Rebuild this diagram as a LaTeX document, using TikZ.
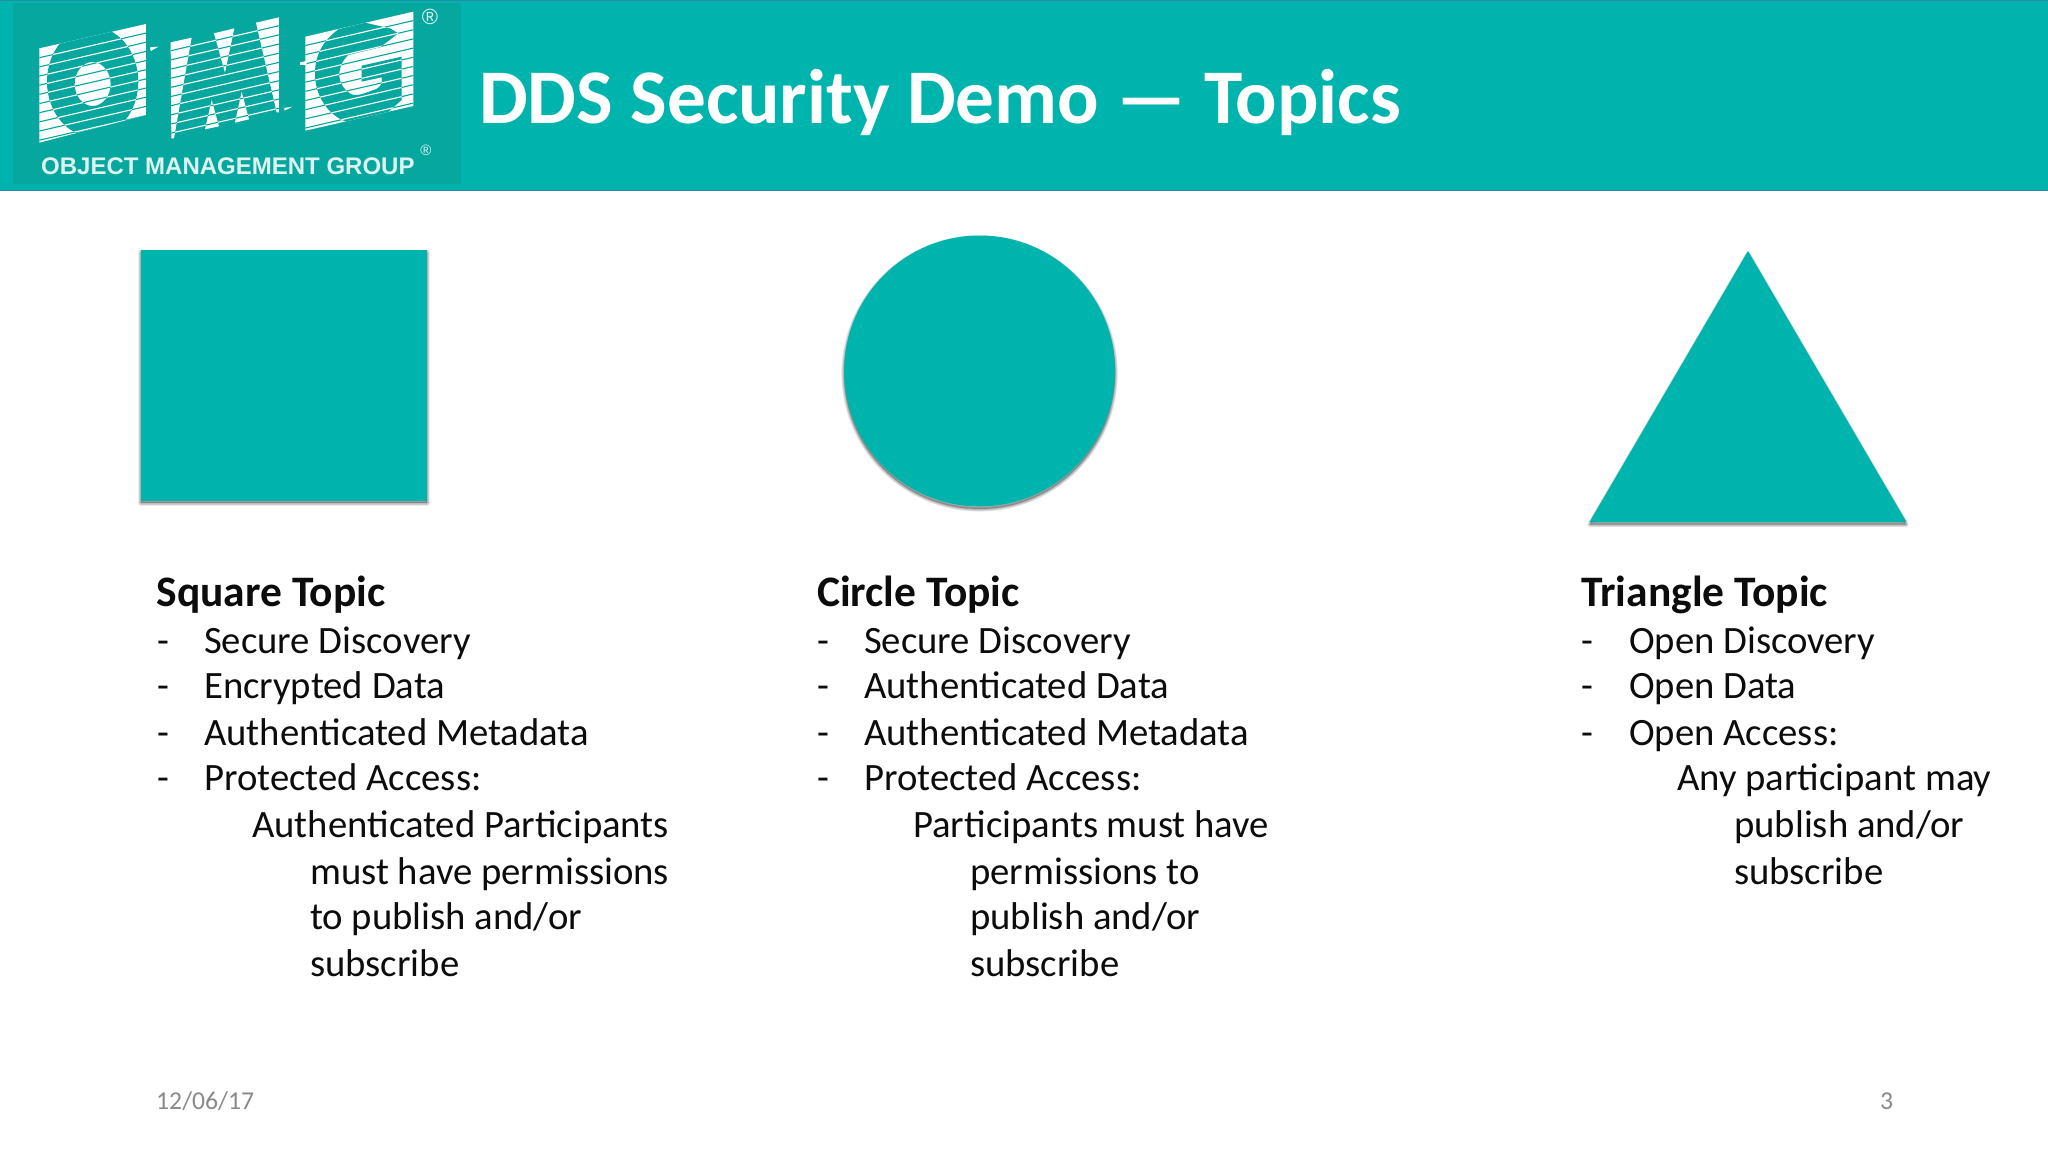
\documentclass[tikz,border=0pt]{standalone}
\usepackage{fontspec}
\setmainfont{Carlito}
\newfontfamily\logofont{Liberation Sans}
\definecolor{hdr}{HTML}{00B4AE}
\definecolor{lbg}{HTML}{05A79F}
\definecolor{ltx}{HTML}{DDF3EF}
\definecolor{ink}{HTML}{0C0C0C}
\definecolor{foot}{HTML}{8A8A8A}
\tikzset{
  titletext/.style={anchor=base west,inner sep=0pt,text=white,font=\bfseries\fontsize{77.3}{84}\selectfont},
  headtext/.style={anchor=base west,inner sep=0pt,text=ink,font=\bfseries\fontsize{43.5}{48}\selectfont},
  bodytext/.style={anchor=base west,inner sep=0pt,text=ink,font=\fontsize{38.7}{42}\selectfont},
  foottext/.style={anchor=base west,inner sep=0pt,text=foot,font=\fontsize{25.7}{30}\selectfont},
  logotext/.style={anchor=base west,inner sep=0pt,text=ltx,font=\logofont\bfseries\fontsize{24}{28}\selectfont},
  logomark/.style={anchor=center,inner sep=0pt,text=ltx,font=\logofont\fontsize{#1}{#1}\selectfont},
}
% stripes in zoomed coordinates: from x #1 at height #2 to x #3, colour #4
\newcommand{\logostripes}[4]{%
  \foreach \k in {0,...,14}{%
    \pgfmathsetmacro{\ya}{#2+\k*27.5}%
    \pgfmathsetmacro{\yb}{\ya-0.231*(#3-#1)}%
    \draw[#4,line width=1.1pt] (#1,\ya) -- (#3,\yb);
  }}
% soft shadow of a closed path
\newcommand{\softshadow}[1]{%
  \foreach \s in {1,2,3,4,5}{%
    \begin{scope}[yshift=-2.4pt]
      \fill[black,opacity=.05] #1;
      \draw[black,opacity=.07,line width=\s*1.1pt,line join=round] #1;
    \end{scope}
  }}
\begin{document}
\begin{tikzpicture}[x=1pt,y=-1pt]
\useasboundingbox (0,0) rectangle (2048,1152);
\fill[white] (0,0) rectangle (2048,1152);
% header
\fill[hdr] (0,0) rectangle (2048,191);
\draw[color=hdr!70!blue!60!gray,line width=1pt] (0,190.8) -- (2048,190.8);
\draw[color=hdr!80!blue!70!gray,line width=1pt] (0,.5) -- (2048,.5);
\fill[lbg] (13,3) rectangle (461,184);
% logo O
\begin{scope}[x=.3333pt,y=-.3333pt]
  \begin{scope}
    \clip (118,145) -- (438,72) -- (438,345) -- (118,428) -- cycle;
    \fill[white] (100,0) rectangle (450,450);
    \logostripes{110}{175}{450}{lbg}
    \fill[lbg,even odd rule] (278,245) ellipse [x radius=137,y radius=165] (278,252) ellipse [x radius=54,y radius=66];
    \begin{scope}[even odd rule]
      \clip (278,245) ellipse [x radius=137,y radius=165] (278,252) ellipse [x radius=54,y radius=66];
      \logostripes{110}{175}{450}{white}
    \end{scope}
  \end{scope}
  \fill[white] (450,142) -- (476,140) -- (452,153) -- cycle;
  \fill[white] (853,324) -- (878,320) -- (853,332) -- cycle;
\end{scope}
% logo M
\begin{scope}[x=.3333pt,y=-.3333pt,shift={(150pt,-10pt)}]
  \begin{scope}
    \clip (62,97) -- (387,22) -- (387,305) -- (65,385) -- cycle;
    \logostripes{50}{125}{400}{white}
  \end{scope}
  \foreach \poly in {{(62,97) -- (125,83) -- (72,385) -- (64,385) -- cycle},
                     {(192,70) -- (253,55) -- (225,188) -- cycle},
                     {(318,38) -- (387,22) -- (387,307) -- (380,307) -- cycle},
                     {(165,358) -- (207,349) -- (185,270) -- cycle},
                     {(255,338) -- (297,328) -- (275,245) -- cycle}}{
    \begin{scope}
      \clip \poly;
      \fill[white] (0,0) rectangle (420,420);
      \logostripes{50}{125}{400}{lbg}
    \end{scope}
  }
\end{scope}
% logo G
\begin{scope}[x=.3333pt,y=-.3333pt,shift={(290pt,0pt)}]
  \begin{scope}
    \clip (46,110) -- (370,35) -- (370,318) -- (46,392) -- cycle;
    \fill[white] (30,0) rectangle (390,410);
    \logostripes{40}{138}{380}{lbg}
    \def\gpath{(145,88) .. controls (95,125) and (75,170) .. (75,220) .. controls (75,290) and (115,345) .. (168,365) -- (290,340) -- (335,300) -- (335,170) -- (215,197) -- (215,245) -- (275,232) .. controls (278,255) and (270,265) .. (245,272) .. controls (225,280) and (205,287) .. (190,285) .. controls (165,275) and (148,250) .. (148,225) .. controls (148,200) and (158,180) .. (175,165) -- (270,142) -- (325,100) -- (300,85) -- (225,68) -- cycle}
    \fill[lbg] \gpath;
    \clip \gpath;
    \logostripes{40}{138}{380}{white}
  \end{scope}
  \fill[white] (30,187) -- (50,183) -- (50,195) -- (30,195) -- cycle;
\end{scope}
\node[logotext] (logoname) at (41,174) {OBJECT MANAGEMENT GROUP};
\node[logomark=22] (logoreg) at (430,17) {®};
\node[logomark=15] (logoregb) at (426,150) {®};
\node[titletext] (title) at (479,123) {DDS Security Demo — Topics};
% shapes
\softshadow{(140.7,250) rectangle (427,500.5)}
\fill[hdr] (140.7,250) rectangle (427,500.5);
\softshadow{(979.6,371) circle (135.5)}
\fill[hdr] (979.6,371) circle (135.5);
\softshadow{(1748,252) -- (1906,522) -- (1590,522) -- cycle}
\fill[hdr] (1748,251) -- (1906.5,522) -- (1589.5,522) -- cycle;
% column 1
\node[headtext] (h1) at (156.5,606.5) {Square Topic};
\node[bodytext] (d1a) at (157,653.5) {-};
\node[bodytext] (t1a) at (204,653.5) {Secure Discovery};
\node[bodytext] (d1b) at (157,698.5) {-};
\node[bodytext] (t1b) at (204,698.5) {Encrypted Data};
\node[bodytext] (d1c) at (157,745) {-};
\node[bodytext] (t1c) at (204,745) {Authenticated Metadata};
\node[bodytext] (d1d) at (157,790) {-};
\node[bodytext] (t1d) at (204,790) {Protected Access:};
\node[bodytext] (t1e) at (252,837) {Authenticated Participants};
\node[bodytext] (t1f) at (310,884) {must have permissions};
\node[bodytext] (t1g) at (310,929) {to publish and/or};
\node[bodytext] (t1h) at (310,976) {subscribe};
% column 2
\node[headtext] (h2) at (817,606.5) {Circle Topic};
\node[bodytext] (d2a) at (817,653.5) {-};
\node[bodytext] (t2a) at (864,653.5) {Secure Discovery};
\node[bodytext] (d2b) at (817,698.5) {-};
\node[bodytext] (t2b) at (864,698.5) {Authenticated Data};
\node[bodytext] (d2c) at (817,745) {-};
\node[bodytext] (t2c) at (864,745) {Authenticated Metadata};
\node[bodytext] (d2d) at (817,790) {-};
\node[bodytext] (t2d) at (864,790) {Protected Access:};
\node[bodytext] (t2e) at (913,837) {Participants must have};
\node[bodytext] (t2f) at (970,884) {permissions to};
\node[bodytext] (t2g) at (970,929) {publish and/or};
\node[bodytext] (t2h) at (970,976) {subscribe};
% column 3
\node[headtext] (h3) at (1581,606.5) {Triangle Topic};
\node[bodytext] (d3a) at (1581,653.5) {-};
\node[bodytext] (t3a) at (1629,653.5) {Open Discovery};
\node[bodytext] (d3b) at (1581,698.5) {-};
\node[bodytext] (t3b) at (1629,698.5) {Open Data};
\node[bodytext] (d3c) at (1581,745) {-};
\node[bodytext] (t3c) at (1629,745) {Open Access:};
\node[bodytext] (t3d) at (1677,790) {Any participant may};
\node[bodytext] (t3e) at (1734,837) {publish and/or};
\node[bodytext] (t3f) at (1734,884) {subscribe};
% footer
\node[foottext] (date) at (156,1109) {12/06/17};
\node[foottext] (page) at (1880,1109) {3};
\end{tikzpicture}
\end{document}
